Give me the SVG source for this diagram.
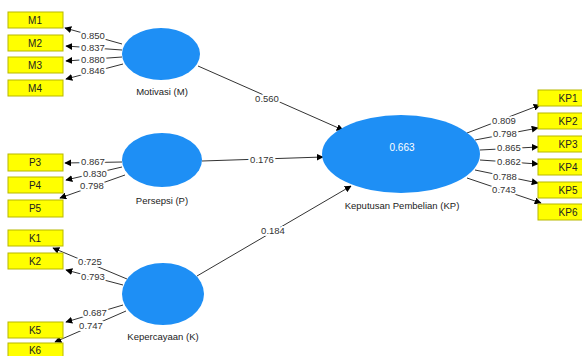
<svg xmlns="http://www.w3.org/2000/svg" width="582" height="356" viewBox="0 0 582 356">
<defs>
<marker id="ah" viewBox="0 0 10 10" refX="9" refY="5" markerWidth="7" markerHeight="7" markerUnits="userSpaceOnUse" orient="auto">
<path d="M0,0 L10,5 L0,10 z" fill="#000"/>
</marker>
</defs>
<style>
.box{fill:#ffff00;stroke:#b8b800;stroke-width:1}
.lv{fill:#1e8ff5}
.bt{font-family:"Liberation Sans",Arial,sans-serif;font-size:10px;fill:#222;text-anchor:middle}
.lt{font-family:"Liberation Sans",Arial,sans-serif;font-size:9.5px;fill:#222;text-anchor:middle}
.el{font-family:"Liberation Sans",Arial,sans-serif;font-size:9.5px;fill:#333;text-anchor:middle;paint-order:stroke;stroke:#fff;stroke-width:4px;stroke-linejoin:round}
.ln{stroke:#333;stroke-width:1;fill:none;marker-end:url(#ah)}
.r2{font-family:"Liberation Sans",Arial,sans-serif;font-size:10px;fill:#fff;text-anchor:middle}
</style>
<rect width="582" height="356" fill="#fff"/>
<g id="connectors">
<line class="ln" x1="122" y1="44" x2="65" y2="28"/>
<line class="ln" x1="122" y1="50" x2="66" y2="46"/>
<line class="ln" x1="122" y1="57" x2="66" y2="61"/>
<line class="ln" x1="123" y1="64" x2="66" y2="79"/>
<line class="ln" x1="122" y1="162" x2="65" y2="163"/>
<line class="ln" x1="122" y1="167" x2="66" y2="180"/>
<line class="ln" x1="125" y1="175" x2="60" y2="198"/>
<line class="ln" x1="127" y1="279" x2="53" y2="248"/>
<line class="ln" x1="123" y1="285" x2="66" y2="270"/>
<line class="ln" x1="123" y1="305" x2="66" y2="322"/>
<line class="ln" x1="126" y1="311" x2="55" y2="342"/>
<line class="ln" x1="467" y1="133" x2="540" y2="105"/>
<line class="ln" x1="475" y1="140" x2="538" y2="128"/>
<line class="ln" x1="480" y1="150" x2="538" y2="147"/>
<line class="ln" x1="480" y1="160" x2="538" y2="164"/>
<line class="ln" x1="475" y1="170" x2="538" y2="183"/>
<line class="ln" x1="467" y1="178" x2="541" y2="203"/>
<line class="ln" x1="198" y1="66" x2="343" y2="130"/>
<line class="ln" x1="202" y1="161" x2="323" y2="157"/>
<line class="ln" x1="197" y1="276" x2="351" y2="186"/>
<text class="el" x="93" y="39">0.850</text>
<text class="el" x="93" y="51">0.837</text>
<text class="el" x="93" y="63">0.880</text>
<text class="el" x="93" y="74">0.846</text>
<text class="el" x="93" y="165">0.867</text>
<text class="el" x="95" y="177">0.830</text>
<text class="el" x="92" y="189">0.798</text>
<text class="el" x="90" y="265">0.725</text>
<text class="el" x="93" y="280">0.793</text>
<text class="el" x="95" y="316">0.687</text>
<text class="el" x="91" y="329">0.747</text>
<text class="el" x="504" y="124">0.809</text>
<text class="el" x="505" y="137">0.798</text>
<text class="el" x="509" y="151">0.865</text>
<text class="el" x="509" y="165">0.862</text>
<text class="el" x="505" y="180">0.788</text>
<text class="el" x="504" y="193">0.743</text>
<text class="el" x="267" y="102">0.560</text>
<text class="el" x="262" y="163">0.176</text>
<text class="el" x="273" y="234">0.184</text>
</g>
<g id="M1"><rect class="box" x="8" y="12" width="55" height="16"/><text class="bt" x="35" y="24">M1</text></g>
<g id="M2"><rect class="box" x="8" y="35" width="55" height="16"/><text class="bt" x="35" y="47">M2</text></g>
<g id="M3"><rect class="box" x="8" y="57" width="55" height="16"/><text class="bt" x="35" y="69">M3</text></g>
<g id="M4"><rect class="box" x="8" y="80" width="55" height="16"/><text class="bt" x="35" y="92">M4</text></g>
<g id="P3"><rect class="box" x="8" y="154" width="55" height="17"/><text class="bt" x="35" y="166">P3</text></g>
<g id="P4"><rect class="box" x="8" y="177" width="55" height="16"/><text class="bt" x="35" y="189">P4</text></g>
<g id="P5"><rect class="box" x="8" y="200" width="55" height="17"/><text class="bt" x="35" y="212">P5</text></g>
<g id="K1"><rect class="box" x="8" y="230" width="55" height="16"/><text class="bt" x="35" y="242">K1</text></g>
<g id="K2"><rect class="box" x="8" y="253" width="55" height="16"/><text class="bt" x="35" y="265">K2</text></g>
<g id="K5"><rect class="box" x="8" y="322" width="55" height="16"/><text class="bt" x="35" y="334">K5</text></g>
<g id="K6"><rect class="box" x="8" y="343" width="55" height="16"/><text class="bt" x="35" y="354">K6</text></g>
<g id="KP1"><rect class="box" x="538" y="90" width="56" height="16"/><text class="bt" x="568" y="102">KP1</text></g>
<g id="KP2"><rect class="box" x="538" y="113" width="56" height="16"/><text class="bt" x="568" y="125">KP2</text></g>
<g id="KP3"><rect class="box" x="538" y="136" width="56" height="16"/><text class="bt" x="568" y="148">KP3</text></g>
<g id="KP4"><rect class="box" x="538" y="159" width="56" height="16"/><text class="bt" x="568" y="171">KP4</text></g>
<g id="KP5"><rect class="box" x="538" y="182" width="56" height="16"/><text class="bt" x="568" y="194">KP5</text></g>
<g id="KP6"><rect class="box" x="538" y="204" width="56" height="16"/><text class="bt" x="568" y="216">KP6</text></g>
<g id="Motivasi"><ellipse class="lv" cx="161" cy="54" rx="39" ry="26"/><text class="lt" x="162" y="95">Motivasi (M)</text></g>
<g id="Persepsi"><ellipse class="lv" cx="162" cy="160" rx="40" ry="27"/><text class="lt" x="162" y="204">Persepsi (P)</text></g>
<g id="Kepercayaan"><ellipse class="lv" cx="163" cy="294" rx="41" ry="31"/><text class="lt" x="163" y="340">Kepercayaan (K)</text></g>
<g id="KP"><ellipse class="lv" cx="401" cy="154" rx="79" ry="39"/><text class="r2" x="402" y="151">0.663</text><text class="lt" x="402" y="209">Keputusan Pembelian (KP)</text></g>
</svg>
